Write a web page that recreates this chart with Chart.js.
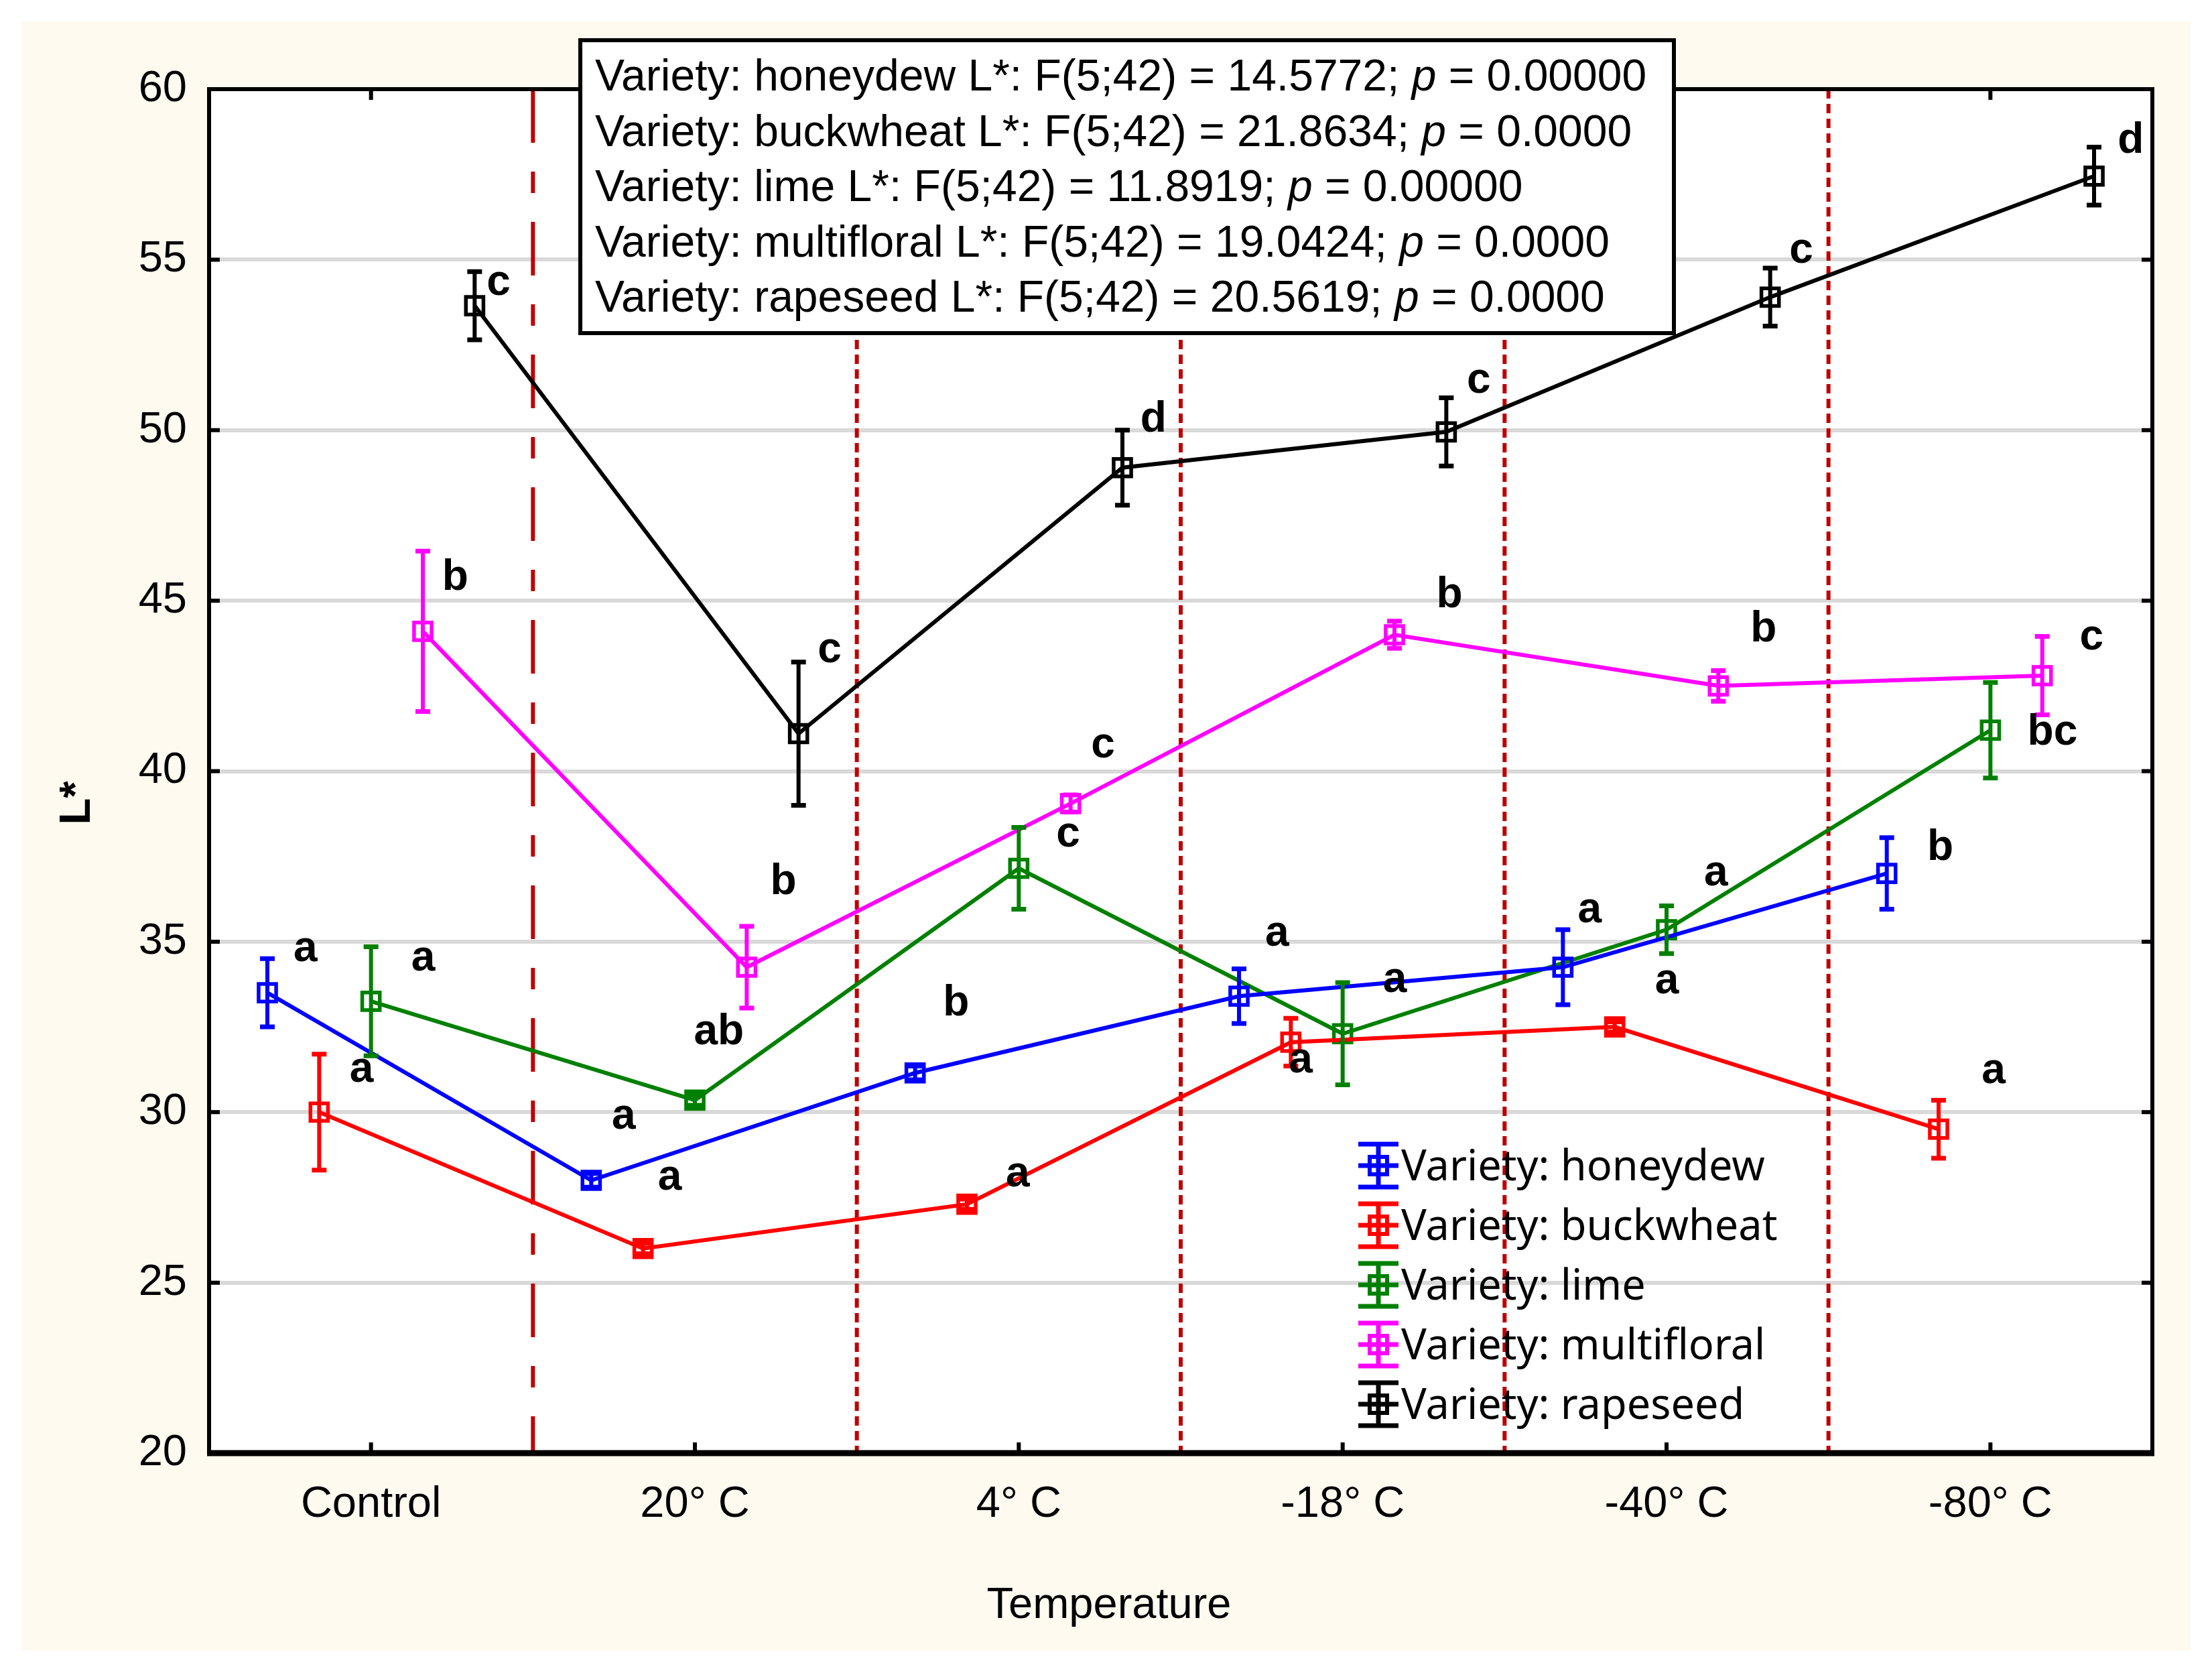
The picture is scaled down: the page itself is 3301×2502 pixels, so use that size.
<!DOCTYPE html>
<html><head><meta charset="utf-8">
<script src="https://cdn.jsdelivr.net/npm/chart.js@4.4.0/dist/chart.umd.min.js"></script>
<style>html,body{margin:0;padding:0;background:#fff;} canvas{display:block;}</style>
</head><body>
<canvas id="c" width="3301" height="2502" style="width:3301px;height:2502px"></canvas>
<script>
// ---------- data ----------
const categories = ['Control', '20° C', '4° C', '-18° C', '-40° C', '-80° C'];
const seriesNames = ['Variety: honeydew', 'Variety: buckwheat', 'Variety: lime', 'Variety: multifloral', 'Variety: rapeseed'];
const statVarieties = ['honeydew', 'buckwheat', 'lime', 'multifloral', 'rapeseed'];

const honeydew      = [33.5, 28.0, 31.15, 33.4, 34.25, 37.0];
const honeydewErr   = [1.0, 0.2, 0.2, 0.8, 1.1, 1.05];
const honeydewLetters = ['a', 'a', 'b', 'a', 'a', 'b'];

const buckwheat     = [30.0, 26.0, 27.3, 32.05, 32.5, 29.5];
const buckwheatErr  = [1.7, 0.15, 0.15, 0.7, 0.15, 0.85];
const buckwheatLetters = ['a', 'a', 'a', 'a', 'a', 'a'];

const lime          = [33.25, 30.35, 37.15, 32.3, 35.35, 41.2];
const limeErr       = [1.6, 0.15, 1.2, 1.5, 0.7, 1.4];
const limeLetters   = ['a', 'ab', 'c', 'a', 'a', 'bc'];

const multifloral   = [44.1, 34.25, 39.05, 44.0, 42.5, 42.8];
const multifloralErr = [2.35, 1.2, 0.25, 0.4, 0.45, 1.15];
const multifloralLetters = ['b', 'b', 'c', 'b', 'b', 'c'];

const rapeseed      = [53.65, 41.1, 48.9, 49.95, 53.9, 57.45];
const rapeseedErr   = [1.0, 2.1, 1.1, 1.0, 0.85, 0.85];
const rapeseedLetters = ['c', 'c', 'd', 'c', 'c', 'd'];

const yTicks = [20, 25, 30, 35, 40, 45, 50, 55, 60];
const statF = ['14.5772', '21.8634', '11.8919', '19.0424', '20.5619'];
const statP = ['0.00000', '0.0000', '0.00000', '0.0000', '0.0000'];
const xTitle = 'Temperature';
const yTitle = 'L*';

// ---------- layout / style ----------
const S = 2.105;
const seriesColors = ['#0000FF', '#FF0000', '#008000', '#FF00FF', '#000000'];
const seriesOffsets = [-0.32, -0.16, 0, 0.16, 0.32];
const letterOffsets = [
  [[27,-31],[23,-45],[29,-49],[27,-44],[19,-40],[38,-18]],
  [[30,-30],[19,-50],[36,-21],[7,13],[37,-32],[39,-41]],
  [[37,-30],[17,-48],[35,-24],[37,-38],[35,-40],[44,2]],
  [[23,-38],[26,-60],[23,-41],[39,-28],[32,-40],[35,-27]],
  [[17,-16],[22,-59],[22,-34],[23,-36],[22,-33],[26,-25]]
];
const FONT = "'Liberation Sans', Arial, sans-serif";

const seriesValues = [honeydew, buckwheat, lime, multifloral, rapeseed];
const seriesErrors = [honeydewErr, buckwheatErr, limeErr, multifloralErr, rapeseedErr];
const seriesLetters = [honeydewLetters, buckwheatLetters, limeLetters, multifloralLetters, rapeseedLetters];

const datasets = seriesNames.map((name, i) => ({
  label: name,
  data: seriesValues[i].map((v, j) => ({ x: j + seriesOffsets[i], y: v })),
  borderColor: seriesColors[i],
  backgroundColor: 'rgba(0,0,0,0)',
  borderWidth: 6,
  pointStyle: 'rect',
  pointRadius: 18.5,
  pointHoverRadius: 18.5,
  pointBorderWidth: 5.5,
  pointBackgroundColor: 'rgba(0,0,0,0)',
  pointBorderColor: seriesColors[i],
  tension: 0,
  fill: false
}));

const decor = {
  id: 'decor',
  beforeDraw(chart) {
    const c = chart.ctx, a = chart.chartArea;
    c.save();
    c.fillStyle = '#ffffff';
    c.fillRect(0, 0, chart.width, chart.height);
    c.fillStyle = '#FEFAF0';
    c.fillRect(32, 32, 3237, 2431);
    c.fillStyle = '#ffffff';
    c.fillRect(a.left, a.top, a.right - a.left, a.bottom - a.top);
    c.restore();
  },
  beforeDatasetsDraw(chart) {
    const c = chart.ctx, a = chart.chartArea, xs = chart.scales.x;
    c.save();
    c.strokeStyle = '#C00000';
    c.lineWidth = 6;
    for (let k = 0; k < categories.length - 1; k++) {
      const x = xs.getPixelForValue(k + 0.5);
      c.setLineDash(k === 0 ? [80, 43, 32, 43] : [14, 8]);
      c.beginPath(); c.moveTo(x, a.top); c.lineTo(x, a.bottom); c.stroke();
    }
    c.restore();
  },
  afterDatasetsDraw(chart) {
    const c = chart.ctx, a = chart.chartArea, xs = chart.scales.x, ys = chart.scales.y;
    c.save();
    // error bars
    chart.data.datasets.forEach((ds, i) => {
      c.strokeStyle = seriesColors[i];
      c.setLineDash([]);
      ds.data.forEach((p, j) => {
        const x = xs.getPixelForValue(p.x);
        const e = seriesErrors[i][j];
        const y1 = ys.getPixelForValue(p.y + e), y2 = ys.getPixelForValue(p.y - e);
        c.lineWidth = 6;
        c.beginPath();
        c.moveTo(x, y1); c.lineTo(x, y2);
        c.stroke();
        c.lineWidth = 7;
        c.beginPath();
        c.moveTo(x - 11, y1); c.lineTo(x + 11, y1);
        c.moveTo(x - 11, y2); c.lineTo(x + 11, y2);
        c.stroke();
      });
    });
    // letters
    c.fillStyle = '#000';
    c.font = 'bold 64px ' + FONT;
    c.textAlign = 'center'; c.textBaseline = 'middle';
    chart.data.datasets.forEach((ds, i) => {
      ds.data.forEach((p, j) => {
        const x = xs.getPixelForValue(p.x) + letterOffsets[i][j][0] * S;
        const y = ys.getPixelForValue(p.y) + letterOffsets[i][j][1] * S;
        c.fillText(seriesLetters[i][j], x, y);
      });
    });
    // frame
    c.strokeStyle = '#000';
    c.lineWidth = 6;
    c.beginPath();
    c.moveTo(a.left, a.bottom); c.lineTo(a.left, a.top); c.lineTo(a.right, a.top); c.lineTo(a.right, a.bottom);
    c.stroke();
    c.lineWidth = 9;
    c.beginPath(); c.moveTo(a.left - 3, a.bottom); c.lineTo(a.right + 3, a.bottom); c.stroke();
    // tick marks (inward)
    c.lineWidth = 6;
    c.beginPath();
    categories.forEach((_, k) => {
      const x = xs.getPixelForValue(k);
      c.moveTo(x, a.bottom); c.lineTo(x, a.bottom - 16);
      c.moveTo(x, a.top); c.lineTo(x, a.top + 16);
    });
    yTicks.forEach(v => {
      const y = ys.getPixelForValue(v);
      c.moveTo(a.left, y); c.lineTo(a.left + 16, y);
      c.moveTo(a.right, y); c.lineTo(a.right - 16, y);
    });
    c.stroke();
    // legend
    c.textAlign = 'left'; c.textBaseline = 'alphabetic';
    c.font = "63px 'Noto Sans', Lato, sans-serif";
    chart.data.datasets.forEach((ds, i) => {
      const base = 1761 + i * 89;
      const cy = base - 22, cx = 2057;
      c.strokeStyle = seriesColors[i];
      c.lineWidth = 7;
      c.beginPath();
      c.moveTo(cx, cy - 32); c.lineTo(cx, cy + 32);
      c.moveTo(cx - 30, cy - 32); c.lineTo(cx + 30, cy - 32);
      c.moveTo(cx - 30, cy + 32); c.lineTo(cx + 30, cy + 32);
      c.moveTo(cx - 30, cy); c.lineTo(cx + 30, cy);
      c.stroke();
      c.lineWidth = 6;
      c.strokeRect(cx - 13, cy - 13, 26, 26);
      c.fillStyle = '#000';
      c.fillText(ds.label, 2091, base);
    });
    // annotation box
    c.fillStyle = '#fff';
    c.fillRect(866, 60, 1632, 437);
    c.strokeStyle = '#000'; c.lineWidth = 6;
    c.strokeRect(866, 60, 1632, 437);
    c.fillStyle = '#000';
    statVarieties.forEach((v, i) => {
      const base = 135 + i * 82.5;
      let x = 888;
      const part1 = 'Variety: ' + v + ' L*: F(5;42) = ' + statF[i] + '; ';
      c.font = '66px ' + FONT;
      c.fillText(part1, x, base); x += c.measureText(part1).width;
      c.font = 'italic 66px ' + FONT;
      c.fillText('p', x, base); x += c.measureText('p').width;
      c.font = '66px ' + FONT;
      c.fillText(' = ' + statP[i], x, base);
    });
    // axis titles
    c.font = '65px ' + FONT;
    c.textAlign = 'center';
    c.fillText(xTitle, 1655, 2414);
    c.save();
    c.translate(116, 1198);
    c.rotate(-Math.PI / 2);
    c.font = 'bold 65px ' + FONT;
    c.textBaseline = 'middle';
    c.fillText(yTitle, 0, 0);
    c.restore();
    c.restore();
  }
};

new Chart(document.getElementById('c'), {
  type: 'line',
  data: { datasets },
  options: {
    responsive: false,
    devicePixelRatio: 1,
    animation: false,
    layout: { padding: { left: 0, right: 89, top: 133, bottom: 0 } },
    plugins: { legend: { display: false }, tooltip: { enabled: false }, title: { display: false } },
    scales: {
      x: {
        type: 'linear', min: -0.5, max: 5.5,
        afterBuildTicks: s => { s.ticks = categories.map((_, i) => ({ value: i })); },
        afterFit: s => { s.height = 334; },
        ticks: { callback: v => categories[v], font: { family: FONT, size: 65 }, color: '#000', padding: 38, maxRotation: 0, autoSkip: false },
        grid: { display: false, drawTicks: false },
        border: { display: false }
      },
      y: {
        min: 20, max: 60,
        afterBuildTicks: s => { s.ticks = yTicks.map(v => ({ value: v })); },
        afterFit: s => { s.width = 312; },
        ticks: { font: { family: FONT, size: 65 }, color: '#000', padding: 33 },
        grid: { color: ctx => (ctx.tick && (ctx.tick.value === 20 || ctx.tick.value === 60)) ? 'rgba(0,0,0,0)' : '#D9D9D9', lineWidth: 6, drawTicks: false },
        border: { display: false }
      }
    }
  },
  plugins: [decor]
});
</script>
</body></html>
